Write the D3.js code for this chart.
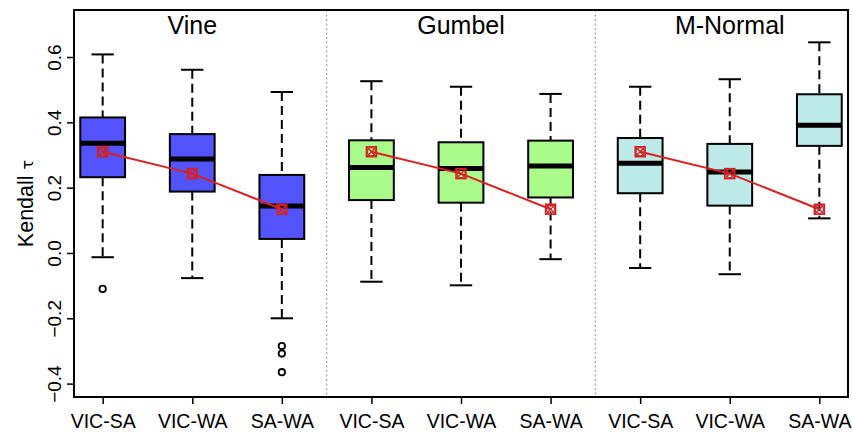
<!DOCTYPE html>
<html>
<head>
<meta charset="utf-8">
<script src="https://cdn.jsdelivr.net/npm/d3@7"></script>
<style>
  html, body { margin: 0; padding: 0; background: #fff; }
  svg { display: block; font-family: "Liberation Sans", Arial, sans-serif; }
</style>
</head>
<body>
<svg id="chart" width="852" height="435"></svg>
<script>
// ---- Data ----
const pairs = ["VIC-SA", "VIC-WA", "SA-WA"];
const models = ["Vine", "Gumbel", "M-Normal"];
const modelColors = ["#5353FB", "#ABFB8B", "#BDE9E9"];
// per box (model-major order): lower whisker, Q1, median, Q3, upper whisker
const whiskerLow = [-0.013, -0.077, -0.200, -0.088, -0.099, -0.019, -0.046, -0.065, 0.106];
const q1 =         [ 0.232,  0.188,  0.043,  0.162,  0.154,  0.170,  0.183,  0.145, 0.328];
const medians =    [ 0.336,  0.288,  0.144,  0.262,  0.259,  0.266,  0.275,  0.248, 0.391];
const q3 =         [ 0.415,  0.364,  0.239,  0.345,  0.339,  0.344,  0.352,  0.334, 0.486];
const whiskerHigh =[ 0.608,  0.561,  0.493,  0.526,  0.509,  0.487,  0.509,  0.532, 0.645];
const outliers = [[-0.110], [], [-0.285, -0.308, -0.365], [], [], [], [], [], []];
// observed Kendall tau per pair (red markers)
const observed = [0.310, 0.243, 0.134];
const yTicks = [-0.4, -0.2, 0.0, 0.2, 0.4, 0.6];
const yLabel = "Kendall";

// ---- Layout ----
const svg = d3.select("#chart");
const mLeft = 74, mRight = 848, mTop = 10, mBottom = 397;
const x = d3.scaleLinear().domain([0.68, 9.32]).range([mLeft, mRight]);
const y = d3.scaleLinear().domain([-0.441, 0.744]).range([mBottom, mTop]);
const boxW = x(1.25) - x(1);   // half box width (0.5 units total)
const capW = boxW / 2;

const boxes = whiskerLow.map((lo, i) => ({
  pos: i + 1,
  model: Math.floor(i / 3),
  lo, q1: q1[i], med: medians[i], q3: q3[i], hi: whiskerHigh[i], out: outliers[i]
}));

// dividers
svg.selectAll("line.divider").data([3.5, 6.5]).enter().append("line")
  .attr("class", "divider")
  .attr("x1", d => x(d)).attr("x2", d => x(d))
  .attr("y1", mTop).attr("y2", mBottom)
  .attr("stroke", "#aaa").attr("stroke-width", 1.3).attr("stroke-dasharray", "2,2.5");

const g = svg.append("g");
const bg = g.selectAll("g.box").data(boxes).enter().append("g");

// whiskers (dashed)
bg.append("line")
  .attr("x1", d => x(d.pos)).attr("x2", d => x(d.pos))
  .attr("y1", d => y(d.hi)).attr("y2", d => y(d.q3))
  .attr("stroke", "#000").attr("stroke-width", 2).attr("stroke-dasharray", "9,5");
bg.append("line")
  .attr("x1", d => x(d.pos)).attr("x2", d => x(d.pos))
  .attr("y1", d => y(d.q1)).attr("y2", d => y(d.lo))
  .attr("stroke", "#000").attr("stroke-width", 2).attr("stroke-dasharray", "9,5");
// caps
bg.append("line")
  .attr("x1", d => x(d.pos) - capW).attr("x2", d => x(d.pos) + capW)
  .attr("y1", d => y(d.hi)).attr("y2", d => y(d.hi))
  .attr("stroke", "#000").attr("stroke-width", 2);
bg.append("line")
  .attr("x1", d => x(d.pos) - capW).attr("x2", d => x(d.pos) + capW)
  .attr("y1", d => y(d.lo)).attr("y2", d => y(d.lo))
  .attr("stroke", "#000").attr("stroke-width", 2);
// box
bg.append("rect")
  .attr("x", d => x(d.pos) - boxW).attr("width", 2 * boxW)
  .attr("y", d => y(d.q3)).attr("height", d => y(d.q1) - y(d.q3))
  .attr("fill", d => modelColors[d.model])
  .attr("stroke", "#000").attr("stroke-width", 2);
// median
bg.append("line")
  .attr("x1", d => x(d.pos) - boxW).attr("x2", d => x(d.pos) + boxW)
  .attr("y1", d => y(d.med)).attr("y2", d => y(d.med))
  .attr("stroke", "#000").attr("stroke-width", 5);
// outliers
bg.selectAll("circle").data(d => d.out.map(v => ({ pos: d.pos, v }))).enter().append("circle")
  .attr("cx", d => x(d.pos)).attr("cy", d => y(d.v)).attr("r", 3.2)
  .attr("fill", "none").attr("stroke", "#000").attr("stroke-width", 1.8);

// red observed lines & markers per panel
models.forEach((m, mi) => {
  const pts = observed.map((v, pi) => ({ pos: mi * 3 + pi + 1, v }));
  svg.append("path").datum(pts)
    .attr("d", d3.line().x(d => x(d.pos)).y(d => y(d.v)))
    .attr("fill", "none").attr("stroke", "#DD1F1F").attr("stroke-width", 2);
  const mk = svg.selectAll(null).data(pts).enter().append("g")
    .attr("transform", d => `translate(${x(d.pos)},${y(d.v)})`);
  const s = 5;
  mk.append("rect").attr("x", -s).attr("y", -s).attr("width", 2 * s).attr("height", 2 * s)
    .attr("fill", "none").attr("stroke", "#D42222").attr("stroke-width", 1.5);
  mk.append("circle").attr("r", s - 0.8)
    .attr("fill", "none").attr("stroke", "#D42222").attr("stroke-width", 1.3);
  mk.append("path").attr("d", `M${-s},${-s}L${s},${s}M${-s},${s}L${s},${-s}`)
    .attr("stroke", "#D42222").attr("stroke-width", 1.3);
});

// panel titles
svg.selectAll("text.title").data(models).enter().append("text")
  .attr("class", "title")
  .attr("x", (d, i) => x(i * 3 + 2)).attr("y", 34)
  .attr("text-anchor", "middle").attr("font-size", 25).attr("fill", "#000")
  .text(d => d);

// axes
const yAxis = d3.axisLeft(y).tickValues(yTicks).tickFormat(d3.format(".1f")).tickSize(7).tickSizeOuter(0);
const ya = svg.append("g").attr("transform", `translate(${mLeft},0)`).call(yAxis);
ya.select(".domain").remove();
ya.selectAll(".tick line").attr("stroke", "#000").attr("stroke-width", 1.5);
ya.selectAll(".tick text")
  .attr("font-size", 19).attr("font-family", "Liberation Sans, Arial, sans-serif").attr("fill", "#000")
  .attr("text-anchor", "middle").attr("dy", null)
  .attr("transform", "rotate(-90)")
  .attr("x", 0).attr("y", -13);

const xAxis = d3.axisBottom(x).tickValues(d3.range(1, 10)).tickFormat((d) => pairs[(d - 1) % 3]).tickSize(7).tickSizeOuter(0);
const xa = svg.append("g").attr("transform", `translate(0,${mBottom})`).call(xAxis);
xa.select(".domain").remove();
xa.selectAll(".tick line").attr("stroke", "#000").attr("stroke-width", 1.5);
xa.selectAll(".tick text")
  .attr("font-size", 19.5).attr("font-family", "Liberation Sans, Arial, sans-serif").attr("fill", "#000")
  .attr("dy", null).attr("y", 31);

// frame
svg.append("rect").attr("x", mLeft).attr("y", mTop).attr("width", mRight - mLeft).attr("height", mBottom - mTop)
  .attr("fill", "none").attr("stroke", "#000").attr("stroke-width", 2);

// y label
const yl = svg.append("text")
  .attr("transform", `translate(33,${(mTop + mBottom) / 2}) rotate(-90)`)
  .attr("text-anchor", "middle").attr("font-size", 21.5).attr("fill", "#000");
yl.append("tspan").text(yLabel + " ");
yl.append("tspan").attr("font-size", 16).attr("font-family", "DejaVu Sans, sans-serif").text("τ");
</script>
</body>
</html>
